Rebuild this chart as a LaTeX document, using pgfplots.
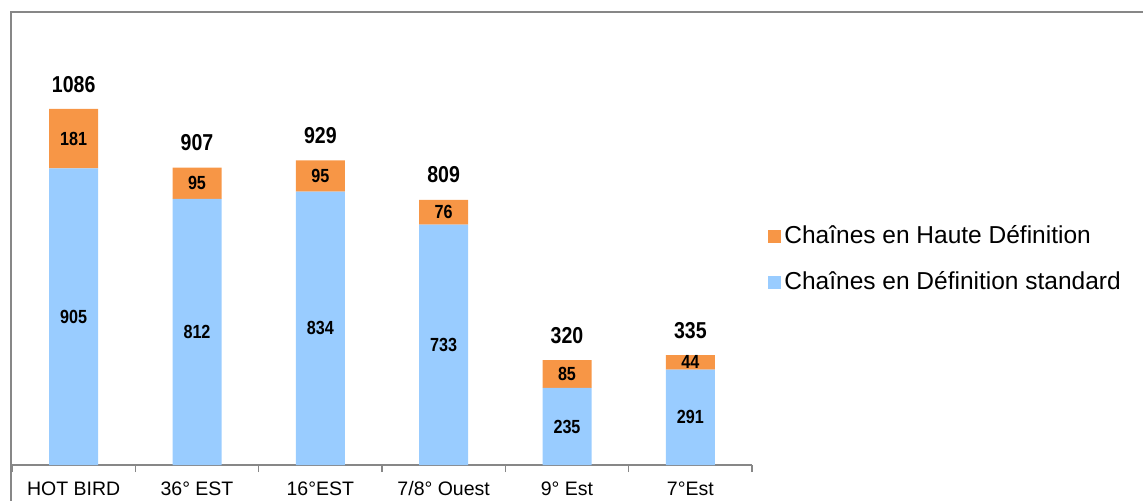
\documentclass[border=0pt]{standalone}
\usepackage{fontspec}
\setmainfont{Liberation Sans}
\newfontfamily\nb[FakeStretch=0.85]{Liberation Sans}
\usepackage{pgfplots}
\pgfplotsset{compat=1.18}
\definecolor{hd}{HTML}{F79646}
\definecolor{sd}{HTML}{99CCFF}
\definecolor{frame}{HTML}{878787}
\pgfplotsset{
  common/.style={
    scale only axis, width=370pt, height=196.7pt,
    at={(6pt,17.5pt)}, anchor=south west,
    xmin=-0.5, xmax=5.5, ymin=0, ymax=1200,
  }
}
\begin{document}
\begin{tikzpicture}
\useasboundingbox (0,0) rectangle (571.5pt,250pt);
\draw[frame, line width=0.75pt] (5.5pt,-2pt) -- (5.5pt,244pt) -- (574pt,244pt);
\begin{axis}[common,
  ybar stacked, bar width=24.5pt,
  axis x line*=bottom, hide y axis,
  axis line style={frame, line width=0.75pt},
  xtick={0,...,5},
  xticklabels={HOT BIRD,36° EST,16°EST,7/8° Ouest,9° Est,7°Est},
  major x tick style={draw=none},
  minor xtick={-0.5,0.5,...,5.5},
  minor x tick style={frame, line width=0.75pt},
  minor tick length=3.5pt,
  tick align=outside,
  xticklabel style={font=\fontsize{9.75pt}{11pt}\selectfont, anchor=base, yshift=-11pt, inner sep=0pt},
  legend style={draw=none, fill=none, at={(1.0216,0.617)}, anchor=north west,
    font=\fontsize{12.25pt}{14pt}\selectfont, row sep=9.5pt, inner sep=0pt,
    nodes={inner sep=1.5pt}},
  legend cell align=left,
  reverse legend,
  legend image code/.code={\fill[#1] (0pt,-3.25pt) rectangle (6.5pt,3.25pt);},
]
\addplot[fill=sd, draw=none] coordinates {(0,905) (1,812) (2,834) (3,733) (4,235) (5,291)};
\addlegendentry{Chaînes en Définition standard}
\addplot[fill=hd, draw=none] coordinates {(0,181) (1,95) (2,95) (3,76) (4,85) (5,44)};
\addlegendentry{Chaînes en Haute Définition}
\end{axis}
\begin{axis}[common, hide axis,
  nodes near coords, point meta=explicit symbolic]
\addplot[draw=none, mark=none,
  every node near coord/.style={anchor=center, inner sep=0pt, font=\nb\bfseries\fontsize{9.5pt}{10pt}\selectfont}]
  coordinates {(0,452.5)[905] (1,406)[812] (2,417)[834] (3,366.5)[733] (4,117.5)[235] (5,145.5)[291]
               (0,995.5)[181] (1,859.5)[95] (2,881.5)[95] (3,771)[76] (4,277.5)[85] (5,313)[44]};
\addplot[draw=none, mark=none,
  every node near coord/.style={anchor=base, inner sep=0pt, yshift=8.4pt, font=\nb\bfseries\fontsize{11.5pt}{13pt}\selectfont}]
  coordinates {(0,1086)[1086] (1,907)[907] (2,929)[929] (3,809)[809] (4,320)[320] (5,335)[335]};
\end{axis}
\end{tikzpicture}
\end{document}
